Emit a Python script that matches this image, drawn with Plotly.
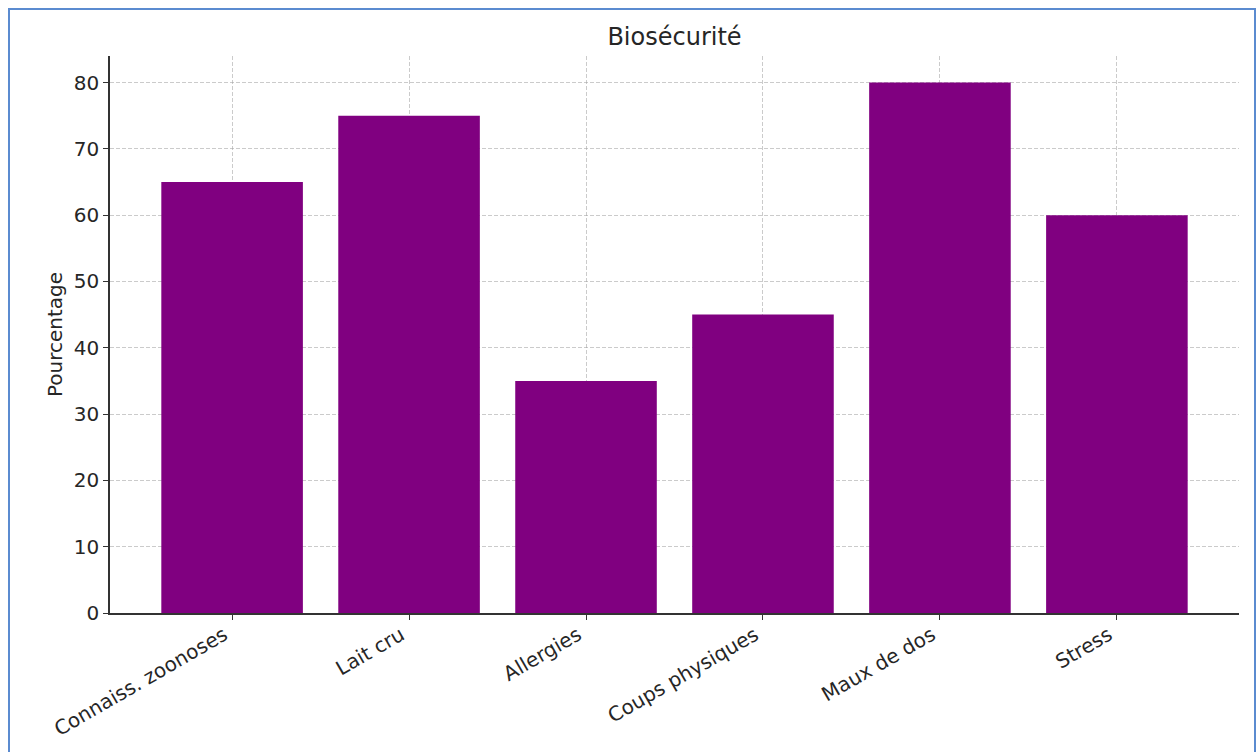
import plotly.graph_objects as go

# Survey results: share of respondents per biosecurity topic
categories = ["Connaiss. zoonoses", "Lait cru", "Allergies", "Coups physiques", "Maux de dos", "Stress"]
percentages = [65, 75, 35, 45, 80, 60]
y_ticks = [0, 10, 20, 30, 40, 50, 60, 70, 80]

FONT = "DejaVu Sans"
TEXT = "#262626"
GRID = "rgba(160,160,160,0.55)"

fig = go.Figure(
    go.Bar(
        x=categories,
        y=percentages,
        marker=dict(color="#800080", line=dict(width=0)),
        hoverinfo="x+y",
    )
)

# Plot area in pixels: x 110..1239, y 56..613 on a 1258x752 page
W, H = 1258, 752
L, R, T, B = 110, 1239, 56, 613
pw, ph = R - L, B - T


def px_x(x):
    return (x - L) / pw


def px_y(y):
    return (B - y) / ph


fig.update_layout(
    width=W,
    height=H,
    margin=dict(l=L, r=W - R, t=T, b=H - B, pad=0),
    paper_bgcolor="white",
    plot_bgcolor="white",
    bargap=0.2,
    showlegend=False,
    font=dict(family=FONT, size=20, color=TEXT),
    title=dict(
        text="Biosécurité",
        x=0.5 * (L + R) / W,
        xanchor="center",
        xref="container",
        y=1 - 37 / H,
        yanchor="middle",
        yref="container",
        font=dict(family=FONT, size=24, color=TEXT),
    ),
    xaxis=dict(
        type="category",
        range=[-0.69, 5.69],
        tickangle=-30,
        tickfont=dict(family=FONT, size=20, color=TEXT),
        ticklabelshift=-8,
        ticklabelstandoff=-4,
        showline=True,
        linecolor="#333333",
        linewidth=1.5,
        ticks="outside",
        ticklen=5,
        tickwidth=1.2,
        tickcolor="#333333",
        showgrid=True,
        gridcolor=GRID,
        gridwidth=1,
        griddash="4px,2px",
        zeroline=False,
        layer="above traces",
        fixedrange=True,
    ),
    yaxis=dict(
        range=[0, 84],
        tickvals=y_ticks,
        tickfont=dict(family=FONT, size=20, color=TEXT),
        title=dict(text="Pourcentage", font=dict(family=FONT, size=20, color=TEXT), standoff=6),
        showline=True,
        linecolor="#333333",
        linewidth=1.5,
        ticks="outside",
        ticklen=5,
        tickwidth=1.2,
        tickcolor="#333333",
        showgrid=True,
        gridcolor=GRID,
        gridwidth=1,
        griddash="4px,2px",
        zeroline=False,
        layer="above traces",
        fixedrange=True,
    ),
    shapes=[
        # Blue frame around the whole figure
        dict(
            type="rect",
            xref="paper",
            yref="paper",
            x0=px_x(9),
            x1=px_x(1255),
            y0=px_y(770),
            y1=px_y(9),
            line=dict(color="#5b8bd0", width=2),
            fillcolor="rgba(0,0,0,0)",
            layer="above",
        )
    ],
)

fig.write_html("out.html")
